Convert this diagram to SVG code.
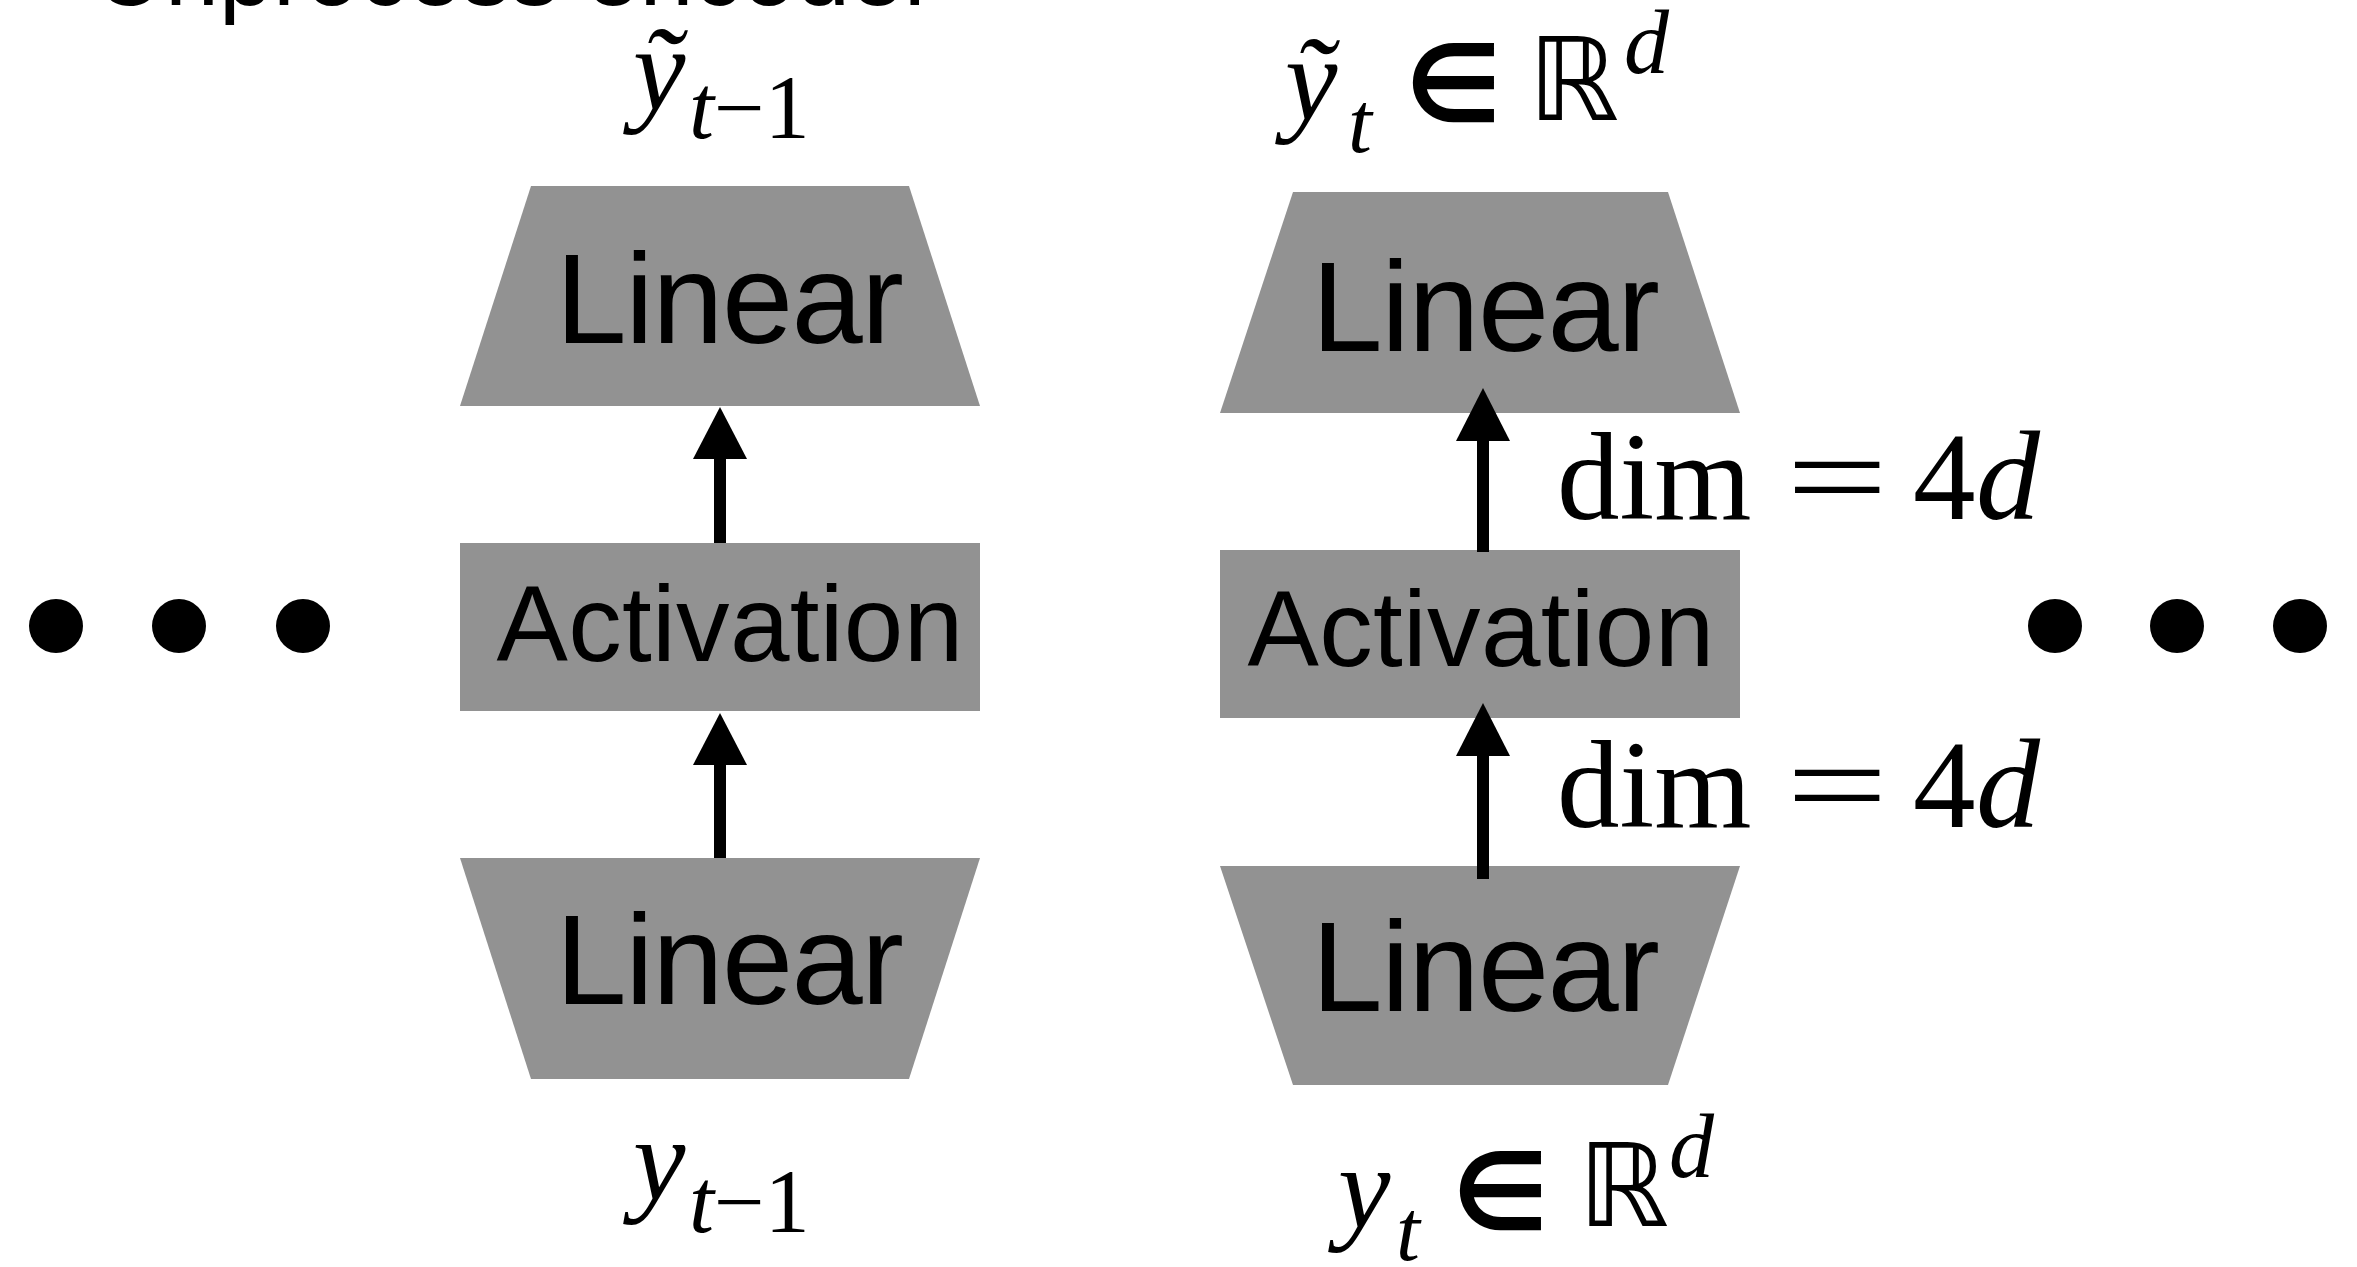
<svg xmlns="http://www.w3.org/2000/svg" width="2357" height="1267" viewBox="0 0 2357 1267">
<style>
.blk{fill:#929292;}
.lbl{font-family:"Liberation Sans",Arial,sans-serif;fill:#000;text-anchor:middle;}
.lin{font-size:128px;letter-spacing:-1.5px;}
.act{font-size:107px;letter-spacing:0.3px;}
.math{font-family:"Liberation Serif","Times New Roman",serif;fill:#000;}
.it{font-style:italic;}
.sym{font-family:"DejaVu Sans",sans-serif;fill:#000;}
.conn{stroke:#000;stroke-width:12;fill:none;}
.head{fill:#000;}
</style>
<rect width="2357" height="1267" fill="#fff"/>
<text x="95" y="5" font-family="Liberation Sans,Arial,sans-serif" font-size="97">Unprocess encoder</text>

<g id="dots-left">
<circle cx="56" cy="626" r="27"/>
<circle cx="179" cy="626" r="27"/>
<circle cx="303" cy="626" r="27"/>
</g>
<g id="dots-right">
<circle cx="2055" cy="626" r="27"/>
<circle cx="2177" cy="626" r="27"/>
<circle cx="2300" cy="626" r="27"/>
</g>

<g id="left-linear-top">
<polygon class="blk" points="531,186 909,186 980,406 460,406"/>
<text class="lbl lin" x="729" y="343">Linear</text>
</g>
<g id="left-activation">
<rect class="blk" x="460" y="543" width="520" height="168"/>
<text class="lbl act" x="730" y="661">Activation</text>
</g>
<g id="left-linear-bottom">
<polygon class="blk" points="460,858 980,858 909,1079 531,1079"/>
<text class="lbl lin" x="729" y="1004">Linear</text>
</g>

<g id="right-linear-top">
<polygon class="blk" points="1293,192 1668,192 1740,413 1220,413"/>
<text class="lbl lin" x="1485" y="351">Linear</text>
</g>
<g id="right-activation">
<rect class="blk" x="1220" y="550" width="520" height="168"/>
<text class="lbl act" x="1481" y="666">Activation</text>
</g>
<g id="right-linear-bottom">
<polygon class="blk" points="1220,866 1740,866 1668,1085 1293,1085"/>
<text class="lbl lin" x="1485" y="1011">Linear</text>
</g>

<g id="connectors">
<line class="conn" x1="720" y1="543" x2="720" y2="455"/>
<polygon class="head" points="720,407 747,459 693,459"/>
<line class="conn" x1="720" y1="858" x2="720" y2="762"/>
<polygon class="head" points="720,713 747,765 693,765"/>
<line class="conn" x1="1483" y1="552" x2="1483" y2="437"/>
<polygon class="head" points="1483,388 1510,441 1456,441"/>
<line class="conn" x1="1483" y1="879" x2="1483" y2="752"/>
<polygon class="head" points="1483,703 1510,756 1456,756"/>
</g>

<g id="label-top-left">
<text class="math it" x="633" y="110" font-size="118">ỹ</text>
<text class="math" x="689" y="138" font-size="90"><tspan class="it">t</tspan>−1</text>
</g>
<g id="label-bottom-left">
<text class="math it" x="633" y="1200" font-size="118">y</text>
<text class="math" x="689" y="1232" font-size="90"><tspan class="it">t</tspan>−1</text>
</g>
<g id="label-top-right">
<text class="math it" x="1285" y="120" font-size="118">ỹ</text>
<text class="math it" x="1348" y="152" font-size="86">t</text>
<text class="sym" x="1405" y="122" font-size="108" font-weight="bold">∈</text>
<text class="sym" x="1528" y="120" font-size="115">ℝ</text>
<text class="math it" x="1624" y="73" font-size="90">d</text>
</g>
<g id="label-bottom-right">
<text class="math it" x="1338" y="1228" font-size="118">y</text>
<text class="math it" x="1396" y="1260" font-size="86">t</text>
<text class="sym" x="1452" y="1230" font-size="108" font-weight="bold">∈</text>
<text class="sym" x="1578" y="1226" font-size="115">ℝ</text>
<text class="math it" x="1669" y="1177" font-size="90">d</text>
</g>
<g id="label-dim-1">
<text class="math" x="1557" y="519" font-size="125">dim</text>
<text class="math" transform="translate(1786,519) scale(1.45,1)" font-size="125">=</text>
<text class="math" x="1913" y="519" font-size="125">4</text>
<text class="math it" x="1976" y="519" font-size="128">d</text>
</g>
<g id="label-dim-2">
<text class="math" x="1557" y="827" font-size="125">dim</text>
<text class="math" transform="translate(1786,827) scale(1.45,1)" font-size="125">=</text>
<text class="math" x="1913" y="827" font-size="125">4</text>
<text class="math it" x="1976" y="827" font-size="128">d</text>
</g>
</svg>
